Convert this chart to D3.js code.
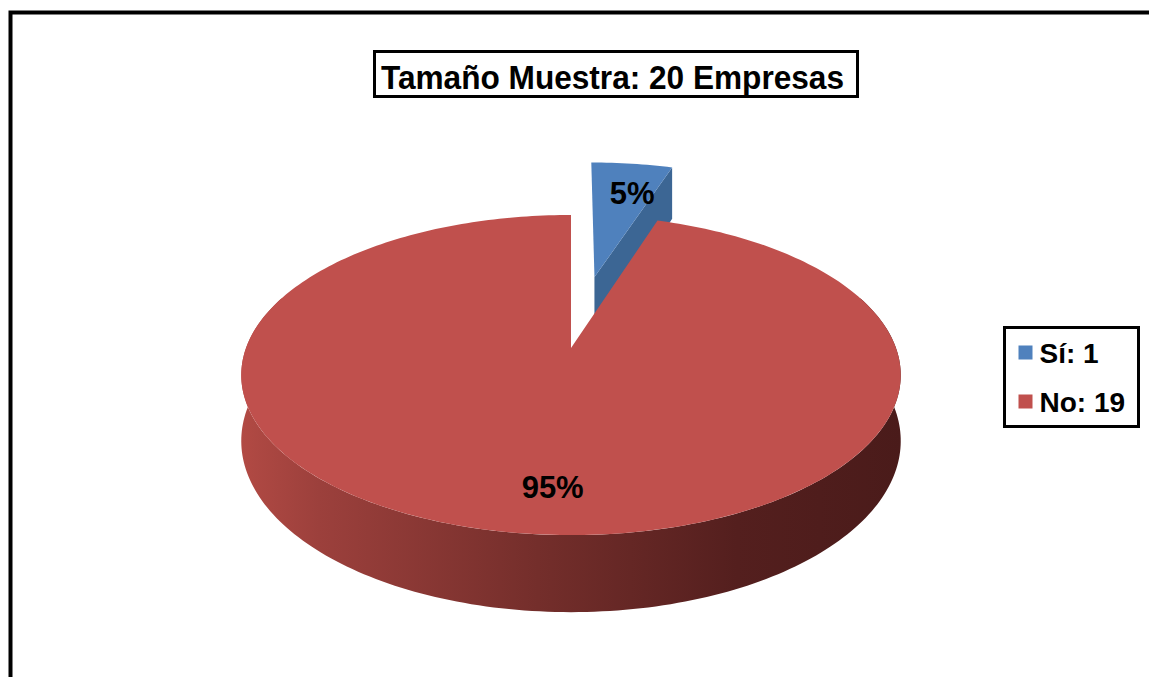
<!DOCTYPE html>
<html>
<head>
<meta charset="utf-8">
<script src="https://cdn.jsdelivr.net/npm/d3@7"></script>
<style>
  body { margin: 0; background: #ffffff; }
  svg { display: block; font-family: "Liberation Sans", Arial, sans-serif; }
</style>
</head>
<body>
<svg></svg>
<script>
// Declare Variables
let titleText = "Tamaño Muestra: 20 Empresas";
let categories = ["Sí", "No"];
let counts = [1, 19];
let colors = ["#4F81BD", "#C0504D"];
let sideColors = ["#3C6694", "#8a3835"];

let width = 1149;
let height = 677;

// 3D pie projection settings
let cx = 571;
let cy = 348;
let rx = 325;      // horizontal radius
let ry = 155.5;    // vertical radius of the top face
let persp = 0.169; // perspective factor
let depth = 64;    // thickness of the pie
let explode = 0.5; // how far the small slice is pulled out

let svg = d3.select("svg").attr("width", width).attr("height", height);

let total = d3.sum(counts);
let pieData = d3.pie().sort(null).value((d) => d.value)(
  categories.map((c, i) => ({ label: c, value: counts[i], color: colors[i], side: sideColors[i] }))
);

// project a point of the disc (u right, v away from viewer, h 0 top / 1 bottom)
let project = (u, v, h) => {
  let s = 1 + persp * v;
  return [cx + (rx * u) / s, cy + (-ry * v + depth * h) / s];
};

let offsetOf = (d) => {
  if (d.index !== 0) return [0, 0];
  let mid = (d.startAngle + d.endAngle) / 2;
  return [explode * Math.sin(mid), explode * Math.cos(mid)];
};

let point = (d, a, r, h) => {
  let o = offsetOf(d);
  return project(o[0] + r * Math.sin(a), o[1] + r * Math.cos(a), h);
};

let line = d3.line();

let arcPoints = (d, a0, a1, h) => {
  let n = Math.max(2, Math.ceil(Math.abs(a1 - a0) / 0.02));
  return d3.range(n + 1).map((i) => point(d, a0 + ((a1 - a0) * i) / n, 1, h));
};

// Declare Functions
let drawFrame = () => {
  svg.append("rect")
    .attr("x", 10.5).attr("y", 12.5)
    .attr("width", 1300).attr("height", 900)
    .attr("fill", "none").attr("stroke", "#000").attr("stroke-width", 4);
};

let drawDefs = () => {
  let grad = svg.append("defs").append("linearGradient")
    .attr("id", "sideGrad")
    .attr("gradientUnits", "userSpaceOnUse")
    .attr("x1", cx - rx * 1.02).attr("x2", cx + rx * 1.02)
    .attr("y1", 0).attr("y2", 0);
  [[0, "#b24a44"], [0.12, "#9c403c"], [0.45, "#742e2b"], [0.75, "#541f1e"], [1, "#4a1b1a"]]
    .forEach((s) => grad.append("stop").attr("offset", s[0]).attr("stop-color", s[1]));
};

let drawSmallSlice = (d) => {
  let g = svg.append("g").attr("class", "slice-" + d.index);
  // right cut face
  let a = d.endAngle;
  let face = [
    point(d, a, 0, 0), point(d, a, 1, 0), point(d, a, 1, 1), point(d, a, 0, 1)
  ];
  g.append("path").attr("d", line(face) + "Z").attr("fill", d.data.side);
  // top face
  let top = [point(d, 0, 0, 0)].concat(arcPoints(d, d.startAngle, d.endAngle, 0));
  g.append("path").attr("d", line(top) + "Z").attr("fill", d.data.color);
};

let drawBigSlice = (d) => {
  let g = svg.append("g").attr("class", "slice-" + d.index);
  // visible front part of the outer wall
  let a0 = Math.max(d.startAngle, Math.PI * 0.39);
  let a1 = Math.min(d.endAngle, Math.PI * 1.61);
  let wall = arcPoints(d, a0, a1, 0).concat(arcPoints(d, a1, a0, 1));
  g.append("path").attr("d", line(wall) + "Z").attr("fill", "url(#sideGrad)");
  // top face
  let top = [point(d, 0, 0, 0)].concat(arcPoints(d, d.startAngle, d.endAngle, 0));
  g.append("path").attr("d", line(top) + "Z").attr("fill", d.data.color);
};

let drawLabels = () => {
  pieData.forEach((d) => {
    let mid = (d.startAngle + d.endAngle) / 2;
    let small = d.index === 0;
    let a = small ? mid + 0.05 : Math.PI + (mid - Math.PI) * 0.4;
    let r = small ? 0.72 : 0.78;
    let p = point(d, a, r, 0);
    svg.append("text")
      .attr("x", p[0]).attr("y", p[1] + 11)
      .attr("text-anchor", "middle")
      .attr("font-size", 31).attr("font-weight", "bold")
      .attr("fill", "#000")
      .text(Math.round((d.data.value / total) * 100) + "%");
  });
};

let drawTitle = () => {
  svg.append("rect")
    .attr("x", 374.5).attr("y", 51.5).attr("width", 483).attr("height", 45)
    .attr("fill", "#fff").attr("stroke", "#000").attr("stroke-width", 3);
  svg.append("text")
    .attr("x", 612.5).attr("y", 89)
    .attr("text-anchor", "middle")
    .attr("font-size", 34).attr("font-weight", "bold")
    .attr("textLength", 463).attr("lengthAdjust", "spacingAndGlyphs")
    .text(titleText);
};

let drawLegend = () => {
  let lg = svg.append("g").attr("transform", "translate(1004.5, 327.5)");
  lg.append("rect")
    .attr("width", 134).attr("height", 99)
    .attr("fill", "#fff").attr("stroke", "#000").attr("stroke-width", 3);
  let items = lg.selectAll("g.item")
    .data(pieData)
    .enter()
    .append("g")
    .attr("class", "item")
    .attr("transform", (d, i) => "translate(14, " + (18 + i * 49) + ")");
  items.append("rect")
    .attr("width", 14).attr("height", 14)
    .attr("fill", (d) => d.data.color);
  items.append("text")
    .attr("x", 21).attr("y", 17)
    .attr("font-size", 28).attr("font-weight", "bold")
    .text((d) => d.data.label + ": " + d.data.value);
};

drawFrame();
drawDefs();
drawSmallSlice(pieData[0]);
drawBigSlice(pieData[1]);
drawLabels();
drawTitle();
drawLegend();
</script>
</body>
</html>
